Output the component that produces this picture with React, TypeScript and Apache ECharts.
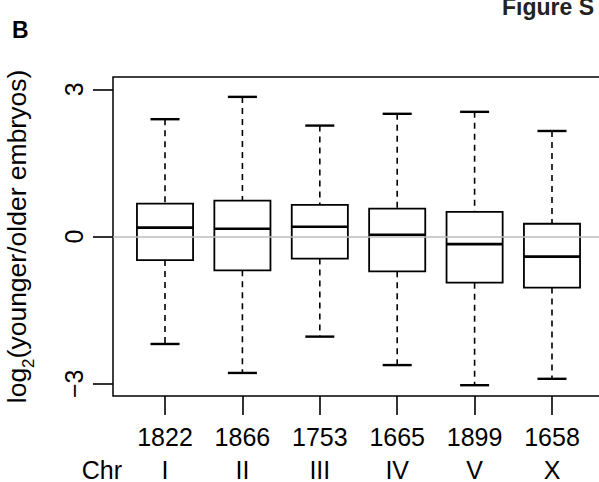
import React, { useEffect, useRef } from "react";
import * as echarts from "echarts";

const counts = ["1822", "1866", "1753", "1665", "1899", "1658"];
const chromosomes = ["I", "II", "III", "IV", "V", "X"];
const positions = [1, 2, 3, 4, 5, 6];
const whiskerLow = [-2.19, -2.78, -2.04, -2.62, -3.03, -2.9];
const q1 = [-0.48, -0.69, -0.45, -0.71, -0.94, -1.04];
const median = [0.18, 0.157, 0.2, 0.035, -0.155, -0.41];
const q3 = [0.67, 0.733, 0.645, 0.57, 0.5, 0.26];
const whiskerHigh = [2.39, 2.845, 2.26, 2.5, 2.54, 2.15];
const yTicks = [-3, 0, 3];

const FONT = "'Liberation Sans', Arial, Helvetica, sans-serif";
const FS = 25;

export default function App() {
  const ref = useRef<HTMLDivElement>(null);
  useEffect(() => {
    if (!ref.current) return;
    const chart = echarts.init(ref.current, null, { renderer: "svg" });
    const data = positions.map((p, i) => [p, whiskerLow[i], q1[i], median[i], q3[i], whiskerHigh[i]]);
    chart.setOption({
      animation: false,
      backgroundColor: "#fff",
      grid: {
        left: 113,
        top: 77,
        width: 491,
        height: 319,
        containLabel: false,
        outerBoundsMode: "none",
        show: true,
        borderColor: "#000",
        borderWidth: 1.5,
        backgroundColor: "transparent",
      },
      xAxis: {
        type: "value",
        position: "bottom",
        min: 0.328,
        max: 6.672,
        axisLine: { show: false, onZero: false },
        splitLine: { show: false },
        axisTick: {
          show: true,
          customValues: positions,
          length: 19,
          lineStyle: { color: "#000", width: 1.6 },
        },
        axisLabel: {
          customValues: positions,
          formatter: (v: number) => {
            const i = positions.indexOf(Math.round(v));
            return i >= 0 ? counts[i] + "\n" + chromosomes[i] : "";
          },
          fontFamily: FONT,
          fontSize: FS,
          lineHeight: 33,
          color: "#000",
          margin: 24,
        },
      },
      yAxis: {
        type: "value",
        position: "left",
        min: -3.25,
        max: 3.25,
        axisLine: { show: false, onZero: false },
        splitLine: { show: false },
        axisTick: {
          show: true,
          customValues: yTicks,
          length: 20,
          lineStyle: { color: "#000", width: 1.6 },
        },
        axisLabel: {
          customValues: yTicks,
          rotate: 90,
          formatter: (v: number) => (v < 0 ? "\u2212" + Math.abs(v) : String(v)),
          fontFamily: FONT,
          fontSize: FS,
          color: "#000",
          margin: 27,
        },
        name: "log{sub|2}(younger/older embryos)",
        nameLocation: "middle",
        nameRotate: 90,
        nameGap: 83,
        nameTextStyle: {
          fontFamily: FONT,
          fontSize: 26.5,
          color: "#000",
          rich: {
            sub: { fontFamily: FONT, fontSize: 17, color: "#000", verticalAlign: "bottom", padding: [0, 0, -7, 0] },
          },
        },
      },
      graphic: [
        {
          type: "text",
          left: 12,
          top: 18,
          style: { text: "B", fontFamily: FONT, fontSize: 23, fontWeight: "bold", fill: "#000" },
        },
        {
          type: "text",
          left: 502,
          top: -5,
          style: { text: "Figure S", fontFamily: FONT, fontSize: 23, fontWeight: "bold", fill: "#222" },
        },
        {
          type: "text",
          x: 122,
          y: 470,
          style: {
            text: "Chr",
            fontFamily: FONT,
            fontSize: FS,
            fill: "#000",
            align: "right",
            verticalAlign: "middle",
          },
        },
      ],
      series: [
        {
          type: "custom",
          data,
          markLine: {
            silent: true,
            symbol: "none",
            label: { show: false },
            lineStyle: { color: "#bdbdbd", type: "solid", width: 1.5 },
            data: [{ yAxis: 0 }],
          },
          renderItem: (params: any, api: any) => {
            const x = api.value(0);
            const lo = api.coord([x, api.value(1)]);
            const b1 = api.coord([x, api.value(2)]);
            const md = api.coord([x, api.value(3)]);
            const b3 = api.coord([x, api.value(4)]);
            const hi = api.coord([x, api.value(5)]);
            const bw = api.size([0.725, 0])[0];
            const cw = api.size([0.375, 0])[0];
            const cx = lo[0];
            const dash = { stroke: "#000", lineWidth: 1.6, lineDash: [6, 5] };
            const solid = { stroke: "#000", lineWidth: 1.8 };
            return {
              type: "group",
              children: [
                { type: "line", shape: { x1: cx, y1: hi[1], x2: cx, y2: b3[1] }, style: dash },
                { type: "line", shape: { x1: cx, y1: b1[1], x2: cx, y2: lo[1] }, style: dash },
                { type: "line", shape: { x1: cx - cw / 2, y1: hi[1], x2: cx + cw / 2, y2: hi[1] }, style: { stroke: "#000", lineWidth: 2.4 } },
                { type: "line", shape: { x1: cx - cw / 2, y1: lo[1], x2: cx + cw / 2, y2: lo[1] }, style: { stroke: "#000", lineWidth: 2.4 } },
                {
                  type: "rect",
                  shape: { x: cx - bw / 2, y: b3[1], width: bw, height: b1[1] - b3[1] },
                  style: { ...solid, fill: "none" },
                },
                { type: "line", shape: { x1: cx - bw / 2, y1: md[1], x2: cx + bw / 2, y2: md[1] }, style: { stroke: "#000", lineWidth: 2.6 } },
              ],
            };
          },
        },
      ],
    });
    return () => chart.dispose();
  }, []);
  return (
    <div
      ref={ref}
      style={{ position: "absolute", left: 0, top: 0, width: 599, height: 482, background: "#fff" }}
    />
  );
}
